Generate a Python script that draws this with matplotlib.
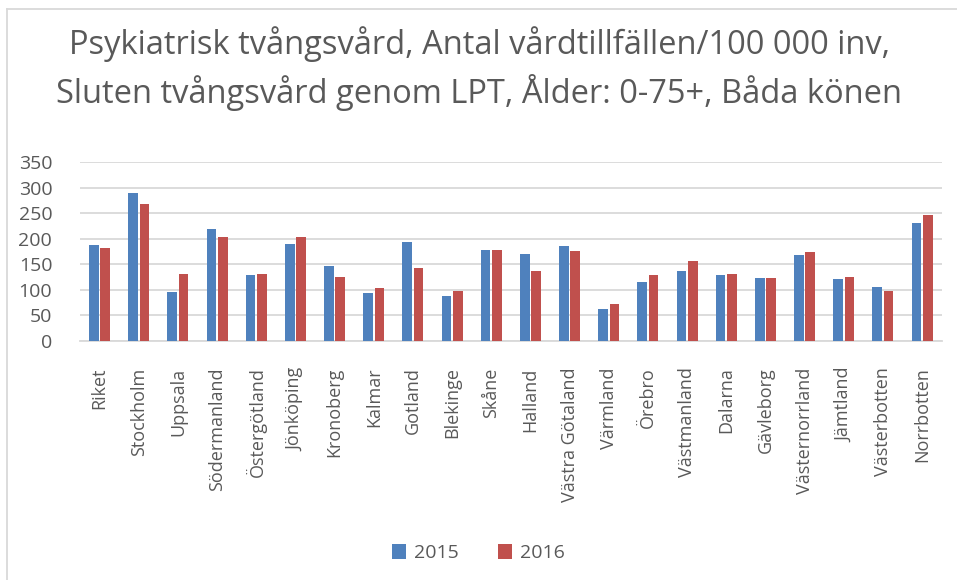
import matplotlib.pyplot as plt
import numpy as np
from matplotlib.lines import Line2D

# Data
regions = ['Riket', 'Stockholm', 'Uppsala', 'Södermanland', 'Östergötland',
           'Jönköping', 'Kronoberg', 'Kalmar', 'Gotland', 'Blekinge', 'Skåne',
           'Halland', 'Västra Götaland', 'Värmland', 'Örebro', 'Västmanland',
           'Dalarna', 'Gävleborg', 'Västernorrland', 'Jämtland', 'Västerbotten',
           'Norrbotten']
values_2015 = [187, 289, 96, 220, 129, 190, 146, 94, 194, 88, 179, 171, 185,
               63, 115, 136, 129, 123, 169, 121, 105, 231]
values_2016 = [181, 268, 132, 204, 132, 204, 125, 103, 142, 98, 179, 136, 177,
               72, 130, 156, 132, 123, 175, 126, 98, 247]
years = ['2015', '2016']
yticks = [0, 50, 100, 150, 200, 250, 300, 350]

blue = '#4F81BD'
red = '#C0504D'
text_col = '#595959'
grid_col = '#D9D9D9'

plt.rcParams['font.family'] = ['Open Sans', 'DejaVu Sans']

fig = plt.figure(figsize=(9.57, 5.80), dpi=100)
ax = fig.add_axes([0.0836, 0.412, 0.9004, 0.3086])

x = np.arange(len(regions))
w = 0.245
off = 0.145
ax.bar(x - off, values_2015, width=w, color=blue, label=years[0], zorder=3)
ax.bar(x + off, values_2016, width=w, color=red, label=years[1], zorder=3)

ax.set_xlim(-0.5, len(regions) - 0.5)
ax.set_ylim(0, 350)
ax.set_yticks(yticks)
ax.set_yticklabels([str(v) for v in yticks], fontsize=14, color=text_col)
ax.set_xticks(x)
ax.set_xticklabels(regions, rotation=90, fontsize=13, color=text_col)
ax.tick_params(axis='both', length=0)
ax.tick_params(axis='y', pad=20)
ax.tick_params(axis='x', pad=19)
ax.grid(axis='y', color=grid_col, linewidth=1.3, zorder=0)
for s in ['top', 'right', 'left']:
    ax.spines[s].set_visible(False)
ax.spines['bottom'].set_color(grid_col)
ax.spines['bottom'].set_linewidth(1.3)

fig.text(0.501, 0.924, 'Psykiatrisk tvångsvård, Antal vårdtillfällen/100 000 inv,',
         ha='center', va='center', fontsize=23.5, color=text_col)
fig.text(0.501, 0.840, 'Sluten tvångsvård genom LPT, Ålder: 0-75+, Båda könen',
         ha='center', va='center', fontsize=23.5, color=text_col)

fig.legend(loc='center', bbox_to_anchor=(0.5, 0.046), ncol=2, frameon=False,
           fontsize=14, labelcolor=text_col, handlelength=0.75, handleheight=0.75,
           columnspacing=2.0, handletextpad=0.4)

# chart border (left and top edges visible)
fig.add_artist(Line2D([0.0078, 0.0078], [0, 0.9845], color=grid_col,
                      linewidth=1.3, transform=fig.transFigure))
fig.add_artist(Line2D([0.0078, 1.0], [0.9845, 0.9845], color=grid_col,
                      linewidth=1.3, transform=fig.transFigure))

fig.savefig('out.png', dpi=100)
